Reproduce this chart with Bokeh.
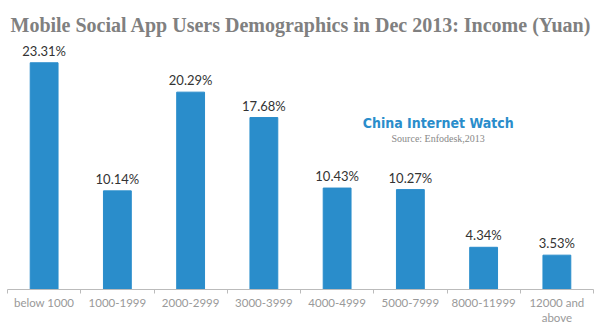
from bokeh.plotting import figure
from bokeh.models import Range1d, FixedTicker, ColumnDataSource, Label, LinearAxis
from bokeh.core.properties import value
from bokeh.embed import file_html
from bokeh.resources import INLINE

categories = ["below 1000", "1000-1999", "2000-2999", "3000-3999", "4000-4999",
              "5000-7999", "8000-11999", "12000 and\nabove"]
shares = [23.31, 10.14, 20.29, 17.68, 10.43, 10.27, 4.34, 3.53]
share_labels = ["%.2f%%" % v for v in shares]

xs = [i + 0.5 for i in range(len(categories))]
src = ColumnDataSource(dict(x=xs, top=shares, lab=share_labels))

p = figure(width=600, height=335, output_backend="svg", toolbar_location=None,
           x_range=Range1d(0, len(categories)), y_range=Range1d(0, 25.6),
           min_border_left=7, min_border_right=7, min_border_top=40, min_border_bottom=46,
           x_axis_location=None, y_axis_location=None)
p.outline_line_color = None
p.xgrid.visible = False
p.ygrid.visible = False
p.background_fill_color = "white"
p.border_fill_color = "white"

p.title.text = "Mobile Social App Users Demographics in Dec 2013: Income (Yuan)"
p.title.text_font = "Liberation Serif"
p.title.text_font_style = "bold"
p.title.text_font_size = "20px"
p.title.text_color = "#808080"
p.title.offset = 3

p.vbar(x="x", top="top", width=0.38, color="#2a8dcb", source=src)
p.text(x="x", y="top", text="lab", source=src, text_align="center",
       text_baseline="bottom", y_offset=-4, text_font=value("Lato"),
       text_font_size="13px", text_color="#333333")

ax = LinearAxis(ticker=FixedTicker(ticks=xs, minor_ticks=list(range(len(categories) + 1))))
ax.major_label_overrides = {x: c for x, c in zip(xs, categories)}
ax.major_tick_line_color = None
ax.minor_tick_out = 4
ax.minor_tick_in = 0
ax.minor_tick_line_color = "#bbbbbb"
ax.axis_line_color = "#bbbbbb"
ax.major_label_text_font = "Lato"
ax.major_label_text_font_size = "11.5px"
ax.major_label_text_color = "#999999"
ax.major_label_standoff = 0
p.add_layout(ax, "below")

p.add_layout(Label(x=5.88, y=16.3, text="China Internet Watch", text_font="DejaVu Sans Condensed",
                   text_font_style="bold", text_font_size="14px", text_color="#2a8dcb",
                   text_align="center"))
p.add_layout(Label(x=5.88, y=15.0, text="Source: Enfodesk,2013", text_font="Liberation Serif",
                   text_font_size="10px", text_color="#888888", text_align="center"))

open("out.html", "w").write(file_html(p, INLINE))
